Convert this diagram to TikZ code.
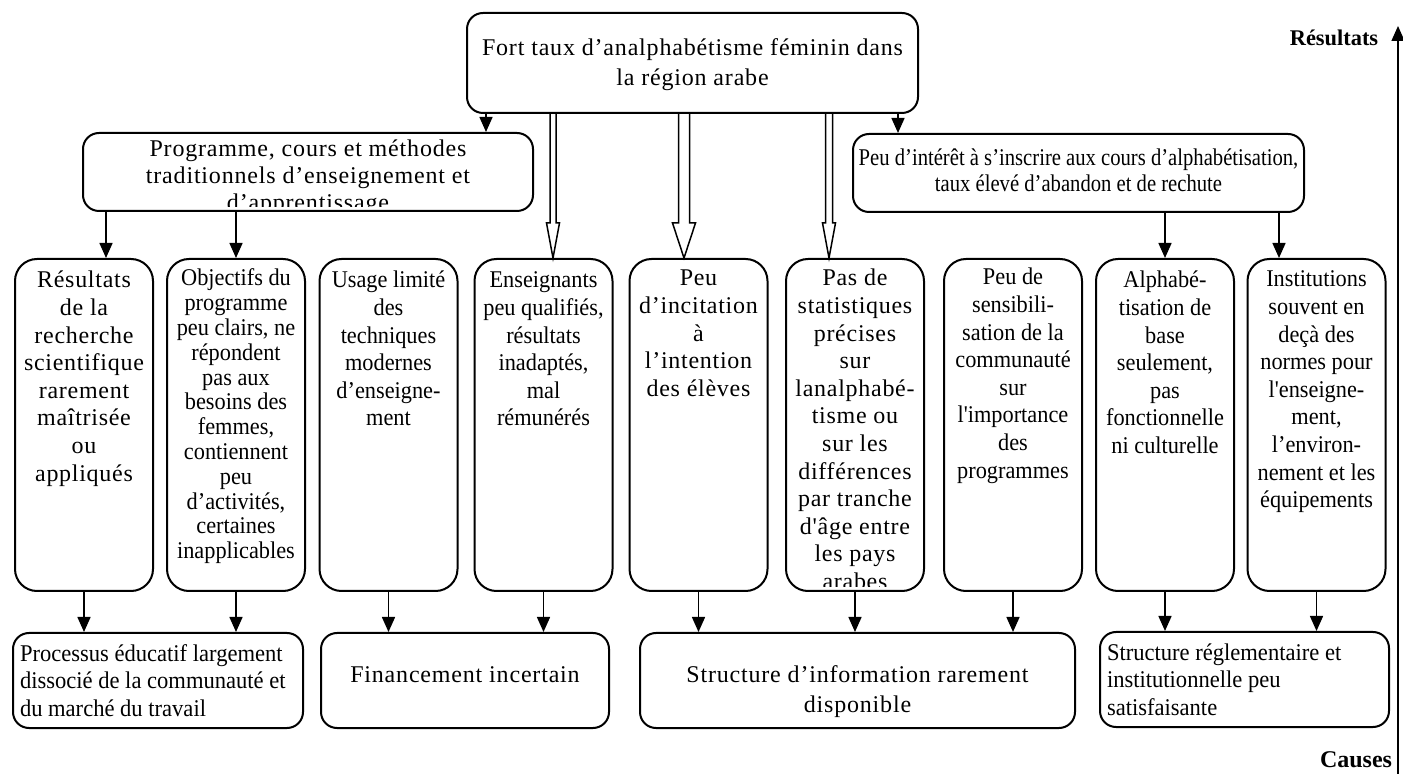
\documentclass[tikz,border=0pt]{standalone}
\usepackage{fontspec}
\setmainfont{Liberation Serif}[Ligatures=TeXOff]
\newfontfamily\fspaced[LetterSpace=3.4,Ligatures=TeXOff]{Liberation Serif}
\newfontfamily\fwide[LetterSpace=3,Ligatures=TeXOff]{Liberation Serif}
\newfontfamily\fnarrow[FakeStretch=0.94,Ligatures=TeXOff]{Liberation Serif}
\newfontfamily\fcolnarrow[FakeStretch=0.93,Ligatures=TeXOff]{Liberation Serif}
\newfontfamily\fcond[FakeStretch=0.86,Ligatures=TeXOff]{Liberation Serif}
\usetikzlibrary{arrows.meta,calc}

% column text: font, space above first line, lines
\newcommand\coltext[3]{\parbox[t][166pt][t]{69pt}{\centering #1\vspace*{#2}\strut #3}}
\newcommand\plainfont{\fcolnarrow\fontsize{12}{13.8}\selectfont}
\newcommand\widefont{\fwide\fontsize{12}{13.8}\selectfont}

% open block arrow: start, tip node anchor, shaft half width, head half width
\newcommand\hollowarr[4]{%
  \draw[hollowarrow] let \p1=(#1), \p2=(#2) in
    (\x1-#3,\y1) -- (\x1-#3,\y2+17.5pt) -- (\x1-#4,\y2+17.5pt) -- (\x1,\y2)
    -- (\x1+#4,\y2+17.5pt) -- (\x1+#3,\y2+17.5pt) -- (\x1+#3,\y1);}

\tikzset{
  boxline/.style={draw, line width=1pt, inner sep=0pt},
  wideframe/.style={boxline, rounded corners=8pt},
  colbox/.style={boxline, rounded corners=11pt, anchor=north,
    minimum width=69pt, minimum height=166pt},
  conn/.style={line width=0.75pt, -{Triangle[length=7.5pt,width=6.5pt]}},
  hollowarrow/.style={line width=0.75pt, line join=miter},
}

\begin{document}
\begin{tikzpicture}[x=0.5pt,y=-0.5pt]
\useasboundingbox (0,0) rectangle (1403,774);

% effect at the top
\node[wideframe, minimum width=225.5pt, minimum height=50pt] (top) at (692.5,63)
  {\parbox[c][50pt][c]{225.5pt}{\centering\fspaced\fontsize{12}{15}\selectfont
   \vspace*{2pt}Fort taux d’analphabétisme féminin dans\\la région arabe}};

% second level
\node[wideframe, minimum width=225pt, minimum height=39pt,
  path picture={
    \clip (path picture bounding box.north west) rectangle
          ([yshift=2pt]path picture bounding box.south east);
    \node[anchor=north, inner sep=0pt] at (path picture bounding box.north)
      {\parbox[t]{225pt}{\centering\fspaced\fontsize{12}{13.5}\selectfont
       \vspace*{1.6pt}\strut Programme, cours et méthodes\\traditionnels d’enseignement et\\d’apprentissage}};
  }] (prog) at (308,172) {};

\node[wideframe, minimum width=225.5pt, minimum height=39pt] (peu) at (1078.5,173)
  {\parbox[c][39pt][c]{225.5pt}{\centering\fcond\fontsize{12}{13}\selectfont
   Peu d’intérêt à s’inscrire aux cours d’alphabétisation,\\taux élevé d’abandon et de rechute\par\vspace*{3pt}}};

% causes, one column each
\node[colbox] (c1) at (84,258) {\coltext{\widefont}{4.84pt}{Résultats\\de la\\recherche\\scientifique\\rarement\\maîtrisée\\ou\\appliqués}};
\node[colbox] (c2) at (236,258) {\coltext{\fcolnarrow\fontsize{12}{12.4}\selectfont}{4.82pt}{Objectifs du\\programme\\peu clairs, ne\\répondent\\pas aux\\besoins des\\femmes,\\contiennent\\peu\\d’activités,\\certaines\\inapplicables}};
\node[colbox] (c3) at (388.5,258) {\coltext{\plainfont}{4.84pt}{Usage limité\\des\\techniques\\modernes\\d’enseigne-\\ment}};
\node[colbox] (c4) at (543.5,258) {\coltext{\plainfont}{4.84pt}{Enseignants\\peu qualifiés,\\résultats\\inadaptés,\\mal\\rémunérés}};
\node[colbox] (c5) at (698.5,258) {\coltext{\widefont}{3.84pt}{Peu\\d’incitation\\à\\l’intention\\des élèves}};
\node[colbox,
  path picture={
    \clip (path picture bounding box.north west) rectangle
          ([yshift=2pt]path picture bounding box.south east);
    \node[anchor=north, inner sep=0pt] at (path picture bounding box.north)
      {\coltext{\widefont}{3.34pt}{Pas de\\statistiques\\précises\\sur\\lanalphabé-\\tisme ou\\sur les\\différences\\par tranche\\d'âge entre\\les pays\\arabes}};
  }] (c6) at (855,258) {};
\node[colbox] (c7) at (1013,258) {\coltext{\plainfont}{3.34pt}{Peu de\\sensibili-\\sation de la\\communauté\\sur\\l'importance\\des\\programmes}};
\node[colbox] (c8) at (1165,258) {\coltext{\plainfont}{4.84pt}{Alphabé-\\tisation de\\base\\seulement,\\pas\\fonctionnelle\\ni culturelle}};
\node[colbox] (c9) at (1316.5,258) {\coltext{\plainfont}{4.34pt}{Institutions\\souvent en\\deçà des\\normes pour\\l'enseigne-\\ment,\\l’environ-\\nement et les\\équipements}};

% structural causes at the bottom
\node[wideframe, minimum width=145pt, minimum height=47.5pt] (b1) at (158,680.5)
  {\parbox[c][47.5pt][c]{145pt}{\raggedright\leftskip=3.5pt\fnarrow\fontsize{12}{13.75}\selectfont
   Processus éducatif largement\\dissocié de la communauté et\\du marché du travail}};
\node[wideframe, minimum width=144pt, minimum height=47.5pt] (b2) at (465,680.5)
  {\parbox[c][47.5pt][c]{144pt}{\centering\fspaced\fontsize{12}{15}\selectfont
   Financement incertain\par\vspace*{5.5pt}}};
\node[wideframe, minimum width=217.5pt, minimum height=47.5pt] (b3) at (857.5,680.5)
  {\parbox[c][47.5pt][c]{217.5pt}{\centering\fspaced\fontsize{12}{15}\selectfont
   \vspace*{11.5pt}Structure d’information rarement\\disponible}};
\node[wideframe, minimum width=144.5pt, minimum height=47.5pt] (b4) at (1244.5,679.5)
  {\parbox[c][47.5pt][c]{144.5pt}{\raggedright\leftskip=3.5pt\fnarrow\fontsize{12}{13.75}\selectfont
   Structure réglementaire et\\institutionnelle peu\\satisfaisante}};

% arrows from the top box
\coordinate (a1) at ($(top.south west)+(20,0)$);
\coordinate (a2) at ($(top.south east)+(-21,0)$);
\draw[conn] (a1) -- (a1 |- prog.north);
\draw[conn] (a2) -- (a2 |- peu.north);

\coordinate (h1) at ($(top.south west)+(87,0)$);
\coordinate (h2) at ($(top.south west)+(218,0)$);
\coordinate (h3) at ($(top.south west)+(363,0)$);
\hollowarr{h1}{c4.north}{1.5pt}{3.25pt}
\hollowarr{h2}{c5.north}{2.75pt}{5.75pt}
\hollowarr{h3}{c6.north}{1.75pt}{3.25pt}

% arrows from the second level
\coordinate (k1) at ($(c1.north)+(22,0)$);
\coordinate (k9) at ($(c9.north)+(-37.5,0)$);
\draw[conn] (prog.south -| k1) -- (k1);
\draw[conn] (prog.south -| c2.north) -- (c2.north);
\draw[conn] (peu.south -| c8.north) -- (c8.north);
\draw[conn] (peu.south -| k9) -- (k9);

% arrows to the bottom row
\foreach \c/\b in {c1/b1, c2/b1, c3/b2, c4/b2, c5/b3, c6/b3, c7/b3, c8/b4, c9/b4}
  \draw[conn] (\c.south) -- (\c.south |- \b.north);

% axis from causes to results
\coordinate (axlow) at (1398,774);
\coordinate (axhigh) at (1398,26);
\draw[conn] (axlow) -- (axhigh);
\node[font=\bfseries\fontsize{11.2}{13}\selectfont, inner sep=0pt] (res) at (1334,38) {Résultats};
\node[font=\bfseries\fontsize{12}{14}\selectfont, inner sep=0pt] (cau) at (1356,760) {Causes};
\end{tikzpicture}
\end{document}
